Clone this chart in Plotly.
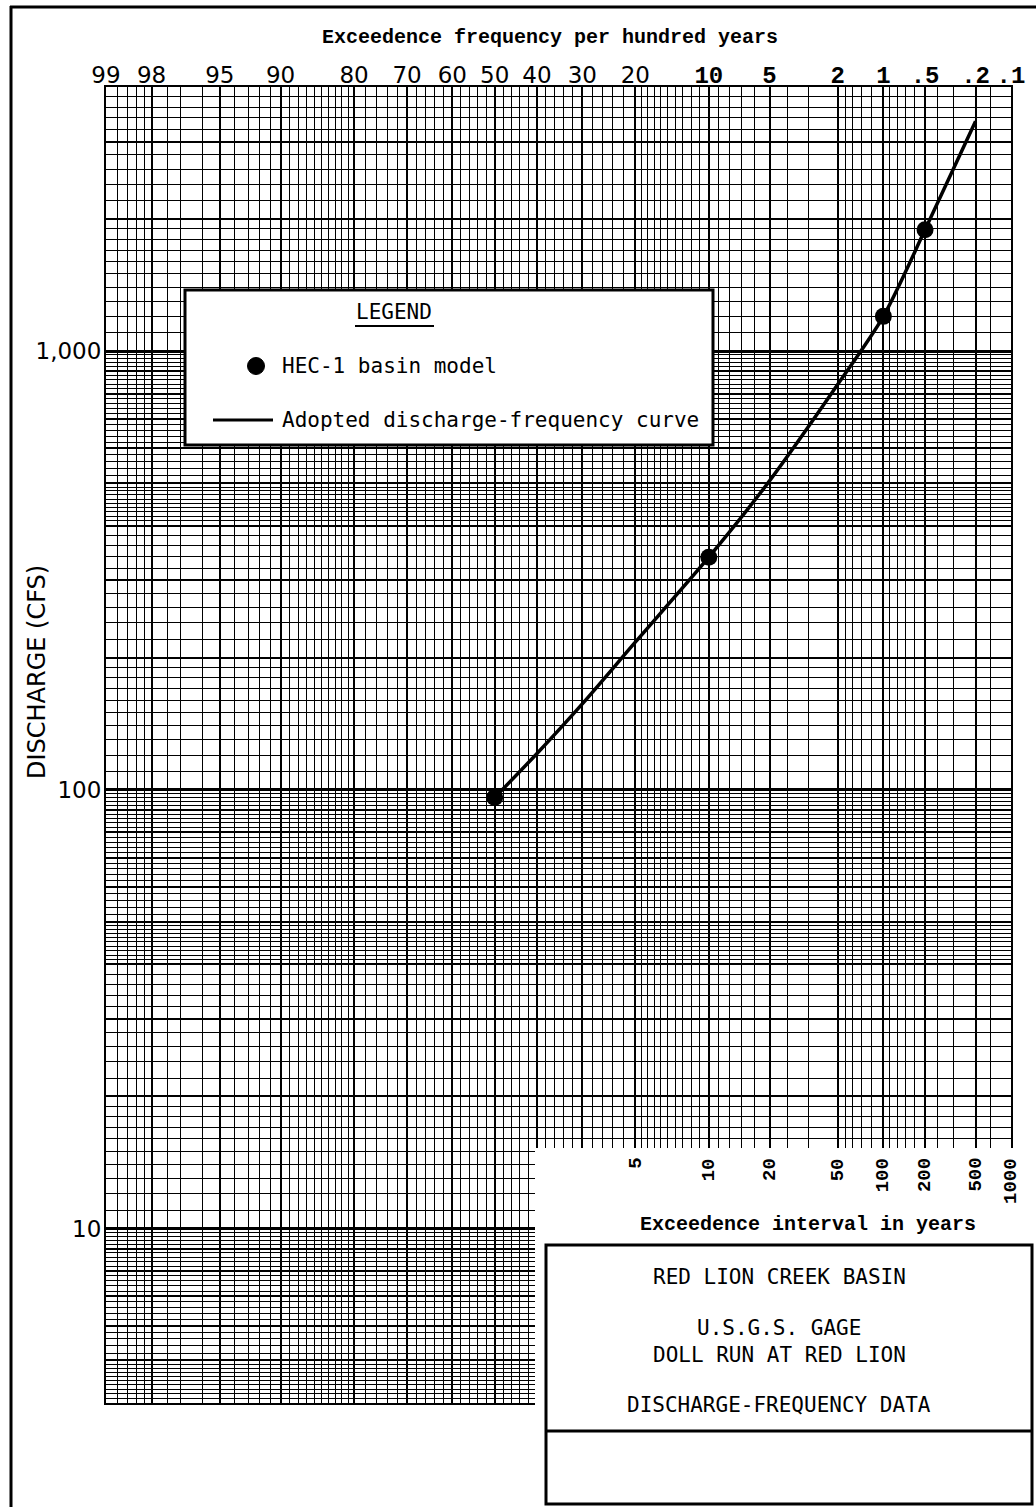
import math
from statistics import NormalDist
import plotly.graph_objects as go

# ---------------- data ----------------
# HEC-1 basin model points: exceedence frequency per hundred years, discharge (cfs)
model_freq = [50, 10, 1, 0.5]
model_q = [96, 339, 1200, 1890]

# Adopted discharge-frequency curve
curve_freq = [50, 40, 30, 20, 10, 5, 2, 1, 0.5, 0.2]
curve_q = [96, 121, 157, 217, 339, 506, 840, 1200, 1890, 3340]

# top axis tick labels (exceedence frequency per hundred years)
top_tick_freq = [99, 98, 95, 90, 80, 70, 60, 50, 40, 30, 20, 10, 5, 2, 1, 0.5, 0.2, 0.1]
top_tick_text = ["99", "98", "95", "90", "80", "70", "60", "50", "40", "30", "20",
                 "10", "5", "2", "1", ".5", ".2", ".1"]

# exceedence interval labels (years)
interval_years = [5, 10, 20, 50, 100, 200, 500, 1000]

# y tick labels
y_tick_vals = [10, 100, 1000]
y_tick_text = ["10", "100", "1,000"]

# probability-paper rulings (percent) between the labelled lines
minor_freq = [98.8, 98.6, 98.4, 98.2, 97.5, 97, 96, 94, 93, 92, 91,
              89, 88, 87, 86, 85, 84, 83, 82, 81, 78, 76, 74, 72,
              68, 66, 64, 62, 58, 56, 54, 52, 48, 46, 44, 42,
              38, 36, 34, 32, 28, 26, 24, 22, 19, 18, 17, 16, 15, 14, 13, 12, 11,
              9, 8, 7, 6, 4, 3, 1.8, 1.6, 1.4, 1.2, 0.9, 0.8, 0.7, 0.6, 0.4, 0.3, 0.15]

# log-paper rulings within one cycle
cycle_fine = ([round(1 + 0.1 * i, 2) for i in range(1, 10)] +
              [2.2, 2.4, 2.6, 2.8, 3.2, 3.4, 3.6, 3.8] +
              [round(4 + 0.1 * i, 2) for i in range(1, 10)] +
              [round(5 + 0.2 * i, 2) for i in range(1, 25) if (5 + 0.2 * i) % 1 > 0.05])
cycle_medium = [2, 3, 4, 5, 6, 7, 8, 9]
cycles = [1, 10, 100, 1000]
Y_LO, Y_HI = 4, 4000

ND = NormalDist()


def z_of(freq_pct):
    """standard normal deviate for an exceedence frequency in percent"""
    return ND.inv_cdf(1 - freq_pct / 100.0)


def rulings(mantissas):
    out = []
    for c in cycles:
        for m in mantissas:
            v = round(m * c, 6)
            if Y_LO <= v <= Y_HI and v not in y_tick_vals:
                out.append(v)
    return out


# ---------------- page geometry helpers (pixels -> paper) ----------------
W, H = 1036, 1507
L, R, T, B = 106, 1011, 87, 1403


def px(X):
    return (X - L) / (R - L)


def py(Y):
    return (B - Y) / (B - T)


fig = go.Figure()

fig.add_trace(go.Scatter(
    x=[z_of(f) for f in curve_freq], y=curve_q, mode="lines",
    line=dict(color="black", width=3.5, shape="spline", smoothing=0.8),
    name="Adopted discharge-frequency curve", hoverinfo="skip"))
fig.add_trace(go.Scatter(
    x=[z_of(f) for f in model_freq], y=model_q, mode="markers",
    marker=dict(color="black", size=17), name="HEC-1 basin model"))
# anchor trace for the overlay axis carrying the medium rulings
fig.add_trace(go.Scatter(x=[], y=[], yaxis="y2", showlegend=False, hoverinfo="skip"))

TYPE = "Liberation Mono"
GOTHIC = "DejaVu Sans Mono"
SANS = "DejaVu Sans"

ticktext = []
for f, t in zip(top_tick_freq, top_tick_text):
    if f <= 10:
        ticktext.append('<span style="font-family:Liberation Mono;font-size:24px"><b>%s</b></span>' % t)
    else:
        ticktext.append(t)

fig.update_layout(
    width=W, height=H, autosize=False,
    margin=dict(l=L, r=W - R, t=T, b=H - B, pad=0),
    paper_bgcolor="white", plot_bgcolor="white",
    showlegend=False,
    xaxis=dict(
        range=[z_of(99), z_of(0.1)], side="top",
        tickmode="array", tickvals=[z_of(f) for f in top_tick_freq], ticktext=ticktext,
        ticks="", tickfont=dict(family=SANS, size=23, color="black"),
        ticklabelstandoff=-7,
        showgrid=True, gridcolor="black", gridwidth=2,
        minor=dict(tickmode="array", tickvals=[z_of(f) for f in minor_freq],
                   showgrid=True, gridcolor="black", gridwidth=1.2, ticks=""),
        showline=True, mirror=True, linecolor="black", linewidth=2,
        zeroline=False, fixedrange=True),
    yaxis=dict(
        type="log", range=[math.log10(Y_LO), math.log10(Y_HI)],
        tickmode="array", tickvals=y_tick_vals, ticktext=y_tick_text,
        ticks="", tickfont=dict(family=SANS, size=23, color="black"),
        ticklabelstandoff=-2,
        showgrid=True, gridcolor="black", gridwidth=2.5,
        minor=dict(tickmode="array", tickvals=rulings(cycle_fine),
                   showgrid=True, gridcolor="black", gridwidth=1.2, ticks=""),
        showline=True, mirror=True, linecolor="black", linewidth=2,
        zeroline=False, fixedrange=True),
    yaxis2=dict(
        type="log", range=[math.log10(Y_LO), math.log10(Y_HI)], overlaying="y",
        tickmode="array", tickvals=rulings(cycle_medium), showticklabels=False,
        ticks="", showgrid=True, gridcolor="black", gridwidth=1.8,
        showline=False, zeroline=False, fixedrange=True),
)

shapes = []
# white area in the lower right
shapes.append(dict(type="rect", xref="paper", yref="paper", x0=px(535), x1=px(1036),
                   y0=py(1148), y1=py(1507), fillcolor="white", line=dict(width=0),
                   layer="above"))
# title block
shapes.append(dict(type="rect", xref="paper", yref="paper", x0=px(546), x1=px(1032),
                   y0=py(1245), y1=py(1504), fillcolor="white",
                   line=dict(color="black", width=3), layer="above"))
shapes.append(dict(type="line", xref="paper", yref="paper", x0=px(546), x1=px(1032),
                   y0=py(1431), y1=py(1431), line=dict(color="black", width=3), layer="above"))
# legend box
shapes.append(dict(type="rect", xref="paper", yref="paper", x0=px(185), x1=px(713),
                   y0=py(290), y1=py(445), fillcolor="white",
                   line=dict(color="black", width=3), layer="above"))
shapes.append(dict(type="line", xref="paper", yref="paper", x0=px(355), x1=px(434),
                   y0=py(326), y1=py(326), line=dict(color="black", width=2), layer="above"))
shapes.append(dict(type="circle", xref="paper", yref="paper", x0=px(247.5), x1=px(264.5),
                   y0=py(357.5), y1=py(374.5), fillcolor="black",
                   line=dict(color="black", width=1), layer="above"))
shapes.append(dict(type="line", xref="paper", yref="paper", x0=px(213), x1=px(273),
                   y0=py(420), y1=py(420), line=dict(color="black", width=3), layer="above"))
# page border
shapes.append(dict(type="line", xref="paper", yref="paper", x0=px(11), x1=px(11),
                   y0=py(6), y1=py(1507), line=dict(color="black", width=3), layer="above"))
shapes.append(dict(type="line", xref="paper", yref="paper", x0=px(10), x1=px(1036),
                   y0=py(7), y1=py(7), line=dict(color="black", width=3), layer="above"))
fig.update_layout(shapes=shapes)

ann = []


def text(x, y, s, family, size, bold=False, xanchor="center", yanchor="middle",
         angle=0, xref="paper"):
    ann.append(dict(x=x, y=y, xref=xref, yref="paper", text=("<b>%s</b>" % s) if bold else s,
                    showarrow=False, xanchor=xanchor, yanchor=yanchor, textangle=angle,
                    font=dict(family=family, size=size, color="black")))


text(px(550), py(37), "Exceedence frequency per hundred years", TYPE, 20, bold=True)
text(px(37), py(672), "DISCHARGE (CFS)", SANS, 24, angle=-90)
for T_yr in interval_years:
    text(z_of(100.0 / T_yr), py(1156), str(T_yr), TYPE, 19, bold=True,
         yanchor="top", angle=-90, xref="x")
text(px(808), py(1224), "Exceedence interval in years", TYPE, 20, bold=True)

text(px(779), py(1277), "RED LION CREEK BASIN", GOTHIC, 21)
text(px(779), py(1328), "U.S.G.S. GAGE", GOTHIC, 21)
text(px(779), py(1355), "DOLL RUN AT RED LION", GOTHIC, 21)
text(px(779), py(1405), "DISCHARGE-FREQUENCY DATA", GOTHIC, 21)

text(px(394), py(312), "LEGEND", GOTHIC, 21)
text(px(280), py(366), "HEC-1 basin model", GOTHIC, 21, xanchor="left")
text(px(280), py(420), "Adopted discharge-frequency curve", GOTHIC, 21, xanchor="left")

fig.update_layout(annotations=ann)

fig.write_html("out.html",
               config={"displayModeBar": False, "staticPlot": False},
               post_script="document.body.style.margin='0px';"
                           "document.body.style.overflow='hidden';")
